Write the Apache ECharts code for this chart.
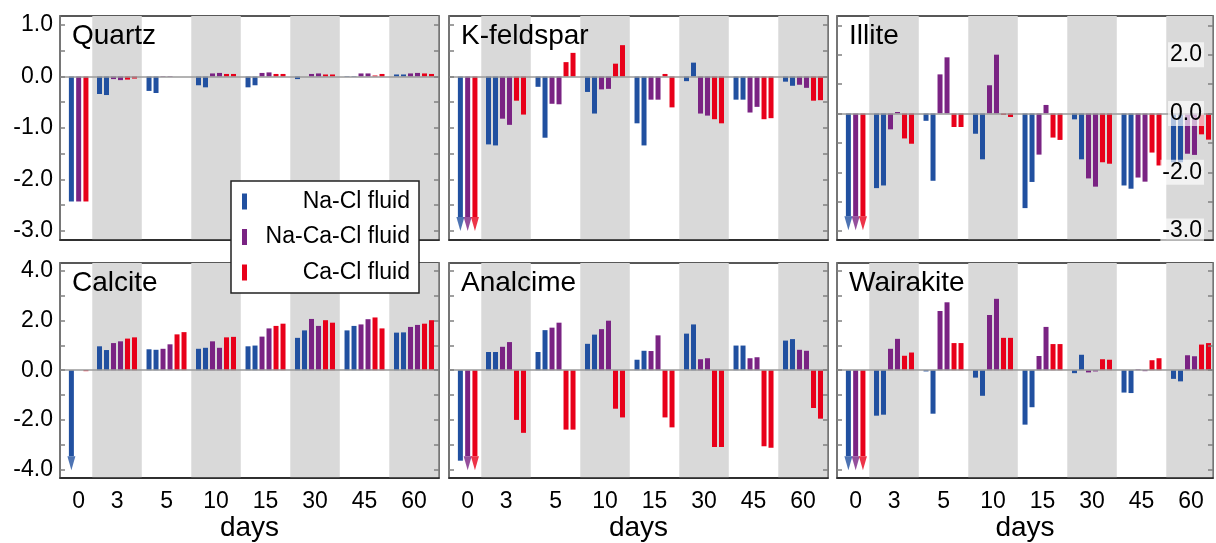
<!DOCTYPE html>
<html><head><meta charset="utf-8">
<script src="https://cdn.jsdelivr.net/npm/echarts@6/dist/echarts.min.js"></script>
<style>html,body{margin:0;padding:0;background:#fff}#c{width:1216px;height:543px}</style>
</head><body><div id="c"></div>
<script>
// ---------- DATA ----------
// Each series: first value = day 0 (single run), then two duplicate runs for each later day.
const days = ['0', '3', '5', '10', '15', '30', '45', '60'];
const fluids = ['Na-Cl fluid', 'Na-Ca-Cl fluid', 'Ca-Cl fluid'];

const quartzNaCl   = [-2.43, -0.34,-0.36, -0.28,-0.32, -0.17,-0.21, -0.21,-0.17, -0.05,0.00, 0.01,0.01, 0.04,0.04];
const quartzNaCaCl = [-2.43, -0.05,-0.07, 0.01,0.01, 0.06,0.07, 0.07,0.08, 0.05,0.06, 0.06,0.06, 0.06,0.07];
const quartzCaCl   = [-2.43, -0.06,-0.04, 0.00,0.00, 0.05,0.05, 0.05,0.05, 0.04,0.04, 0.02,0.05, 0.06,0.05];
const quartzArrows = [false, false, false];

const kfsNaCl   = [-2.73, -1.32,-1.34, -0.20,-1.19, -0.30,-0.72, -0.91,-1.34, -0.09,0.27, -0.45,-0.45, -0.10,-0.18];
const kfsNaCaCl = [-2.73, -0.82,-0.94, -0.53,-0.54, -0.25,-0.24, -0.45,-0.45, -0.72,-0.76, -0.70,-0.59, -0.16,-0.22];
const kfsCaCl   = [-2.73, -0.47,-0.74, 0.28,0.46, 0.25,0.61, 0.05,-0.60, -0.83,-0.91, -0.83,-0.81, -0.47,-0.46];
const kfsArrows = [true, true, true];

const illiteNaCl   = [-3.50, -2.54,-2.45, -0.25,-2.29, -0.69,-1.56, -3.22,-2.33, -0.20,-1.56, -2.45,-2.56, -1.66,-1.66];
const illiteNaCaCl = [-3.50, -0.54,0.05, 1.33,1.91, 0.96,2.00, -1.40,0.29, -2.21,-2.49, -2.18,-2.32, -1.37,-1.41];
const illiteCaCl   = [-3.50, -0.85,-1.03, -0.46,-0.46, -0.05,-0.12, -0.82,-0.90, -1.66,-1.71, -1.33,-1.77, -0.71,-0.89];
const illiteArrows = [true, true, true];

const calciteNaCl   = [-3.46, 0.96,0.81, 0.84,0.82, 0.86,0.90, 0.96,0.99, 1.30,1.60, 1.60,1.78, 1.51,1.52];
const calciteNaCaCl = [0.00, 1.09,1.16, 0.86,1.04, 1.16,0.90, 1.35,1.68, 2.06,1.78, 1.84,2.05, 1.74,1.82];
const calciteCaCl   = [-0.04, 1.27,1.32, 1.44,1.53, 1.32,1.34, 1.78,1.87, 2.01,1.91, 2.12,1.68, 1.87,2.01];
const calciteArrows = [true, false, false];

const analcimeNaCl   = [-3.64, 0.73,0.73, 0.73,1.61, 1.06,1.43, 0.42,0.78, 1.47,1.84, 0.99,0.99, 1.19,1.25];
const analcimeNaCaCl = [-3.46, 0.94,1.13, 1.71,1.91, 1.65,1.99, 0.77,1.40, 0.44,0.48, 0.48,0.52, 0.82,0.78];
const analcimeCaCl   = [-3.46, -2.00,-2.52, -2.39,-2.39, -1.55,-1.90, -1.90,-2.30, -3.09,-3.09, -3.06,-3.12, -1.52,-1.95];
const analcimeArrows = [false, true, true];

const wairakiteNaCl   = [-3.46, -1.83,-1.79, -0.05,-1.75, -0.30,-1.03, -2.19,-1.49, -0.12,0.62, -0.90,-0.92, -0.35,-0.45];
const wairakiteNaCaCl = [-3.46, 0.86,1.26, 2.38,2.73, 2.22,2.87, 0.57,1.74, -0.09,-0.05, 0.03,-0.04, 0.60,0.56];
const wairakiteCaCl   = [-3.46, 0.58,0.71, 1.09,1.09, 1.30,1.30, 1.05,1.05, 0.44,0.42, 0.40,0.48, 1.03,1.09];
const wairakiteArrows = [true, true, true];

// y tick / label values
const topTicks = [-3, -2.5, -2, -1.5, -1, -0.5, 0, 0.5, 1];
const topLabels = [-3, -2, -1, 0, 1];
const illiteTicks = [-4, -3, -2, -1, 0, 1, 2, 3];
const illiteLabelValues = [2, 0, -2, -4];
const illiteLabelTexts = ['2.0', '0.0', '-2.0', '-3.0'];
const bottomTicks = [-4, -3, -2, -1, 0, 1, 2, 3, 4];
const bottomLabels = [-4, -2, 0, 2, 4];

// ---------- LAYOUT / STYLE ----------
const FONT = "'Liberation Sans', Arial, Helvetica, sans-serif";
const COLORS = ['#2150a0', '#7a2383', '#e8001a'];
const cols = [{left: 60, width: 379}, {left: 449, width: 379}, {left: 837, width: 376}];
const rows = [{top: 16, height: 224}, {top: 263, height: 223}];
const BAND_PX = 49.5, XMIN = -0.152;
const POS0 = 0.225, STEP0 = 0.147, STEP = 0.1414;
const dayPos = days.map((d, i) => i === 0 ? POS0 : i);

const yTop = {min: -3.179, max: 1.177, ticks: topTicks, labels: topLabels, fmt: v => v.toFixed(1)};
const yIll = {min: -4.305, max: 3.316, ticks: illiteTicks, labels: illiteLabelValues,
  fmt: v => illiteLabelTexts[illiteLabelValues.findIndex(p => Math.abs(p - v) < 1e-6)]};
const yBot = {min: -4.34, max: 4.31, ticks: bottomTicks, labels: bottomLabels, fmt: v => v.toFixed(1)};

const panels = [
  {name: 'Quartz', vals: [quartzNaCl, quartzNaCaCl, quartzCaCl], arrows: quartzArrows, y: yTop, r: 0, c: 0},
  {name: 'K-feldspar', vals: [kfsNaCl, kfsNaCaCl, kfsCaCl], arrows: kfsArrows, y: yTop, r: 0, c: 1},
  {name: 'Illite', vals: [illiteNaCl, illiteNaCaCl, illiteCaCl], arrows: illiteArrows, y: yIll, r: 0, c: 2, rightLabels: true},
  {name: 'Calcite', vals: [calciteNaCl, calciteNaCaCl, calciteCaCl], arrows: calciteArrows, y: yBot, r: 1, c: 0},
  {name: 'Analcime', vals: [analcimeNaCl, analcimeNaCaCl, analcimeCaCl], arrows: analcimeArrows, y: yBot, r: 1, c: 1},
  {name: 'Wairakite', vals: [wairakiteNaCl, wairakiteNaCaCl, wairakiteCaCl], arrows: wairakiteArrows, y: yBot, r: 1, c: 2}
];

function barData(vals, k) {
  const out = [[POS0 + (k - 1) * STEP0, vals[0]]];
  for (let d = 1; d < days.length; d++) {
    for (let j = 0; j < 2; j++) {
      out.push([d + ((2 * k + j) - 2.5) * STEP, vals[2 * d - 1 + j]]);
    }
  }
  return out;
}

const grid = [], xAxis = [], yAxis = [], series = [], title = [];
panels.forEach((p, i) => {
  const col = cols[p.c], row = rows[p.r];
  const xmax = XMIN + col.width / BAND_PX;
  grid.push({left: col.left, top: row.top, width: col.width, height: row.height,
    show: true, borderColor: '#222', borderWidth: 1.5, backgroundColor: 'transparent'});
  title.push({text: p.name, left: col.left + 12, top: row.top + 6, padding: 0, z: 8,
    textStyle: {fontSize: 28, fontWeight: 'normal', color: '#000', fontFamily: FONT}});
  const isBottom = p.r === 1;
  xAxis.push({type: 'value', gridIndex: i, min: XMIN, max: xmax, z: 6,
    axisLine: {show: true, onZero: false, lineStyle: {color: '#222', width: 1.5}},
    axisTick: {show: false}, splitLine: {show: false},
    axisLabel: isBottom ? {show: true, customValues: dayPos, margin: 12, fontSize: 23, color: '#000', fontFamily: FONT,
      formatter: v => days[dayPos.findIndex(q => Math.abs(q - v) < 1e-6)]} : {show: false},
    name: isBottom ? 'days' : '', nameLocation: 'middle', nameGap: 32,
    nameTextStyle: {fontSize: 28, color: '#000', fontFamily: FONT}});
  const common = {type: 'value', gridIndex: i, min: p.y.min, max: p.y.max, z: 6,
    splitLine: {show: false},
    axisLine: {show: true, onZero: false, lineStyle: {color: '#808080', width: 1.5}},
    axisTick: {show: true, inside: true, length: 5, customValues: p.y.ticks, lineStyle: {color: '#808080', width: 1.5}}};
  yAxis.push(Object.assign({}, common, {position: 'left',
    axisLabel: {show: p.c === 0, customValues: p.y.labels, formatter: p.y.fmt, margin: 7, fontSize: 23, color: '#000', fontFamily: FONT}}));
  yAxis.push(Object.assign({}, common, {position: 'right',
    axisLabel: p.rightLabels ? {show: true, inside: true, customValues: p.y.labels, formatter: p.y.fmt, margin: 9,
      fontSize: 23, color: '#000', fontFamily: FONT, backgroundColor: 'rgba(255,255,255,0.65)', padding: [2, 2, 0, 2]} : {show: false}}));
  const bands = [[0.5, 1.5], [2.5, 3.5], [4.5, 5.5], [6.5, 7.5]].map(b => [{xAxis: b[0]}, {xAxis: Math.min(b[1], xmax)}]);
  series.push({type: 'line', xAxisIndex: i, yAxisIndex: 2 * i, data: [], z: 1, silent: true,
    markArea: {silent: true, itemStyle: {color: '#d9d9d9'}, data: bands},
    markLine: {silent: true, symbol: ['none', 'none'], label: {show: false},
      lineStyle: {color: '#9a9a9a', width: 1.5, type: 'solid'}, data: [{yAxis: 0}]}});
  for (let k = 0; k < 3; k++) {
    series.push({type: 'bar', name: fluids[k], xAxisIndex: i, yAxisIndex: 2 * i, barWidth: 5, barGap: '-100%',
      itemStyle: {color: COLORS[k]}, z: 3, data: barData(p.vals[k], k)});
  }
  const arrowData = [];
  p.arrows.forEach((a, k) => {
    if (a) arrowData.push({value: [POS0 + (k - 1) * STEP0, p.vals[k][0]], itemStyle: {color: COLORS[k]}});
  });
  series.push({type: 'scatter', xAxisIndex: i, yAxisIndex: 2 * i, symbol: 'triangle', symbolSize: [8, 14],
    symbolRotate: 180, symbolOffset: [0, '50%'], z: 4, silent: true, data: arrowData});
});

const chart = echarts.init(document.getElementById('c'), null, {renderer: 'canvas'});
chart.setOption({
  animation: false,
  backgroundColor: '#fff',
  textStyle: {fontFamily: FONT},
  title, grid, xAxis, yAxis, series,
  legend: {data: fluids, orient: 'vertical', left: 231, top: 181, padding: [9, 9, 9, 11], itemGap: 12.5,
    itemWidth: 5, itemHeight: 16, icon: 'rect', backgroundColor: '#fff', borderColor: '#222', borderWidth: 1.5,
    z: 10, selectedMode: false, formatter: '{t|{name}}',
    textStyle: {rich: {t: {width: 158, align: 'right', fontSize: 23, lineHeight: 24, fontFamily: FONT, color: '#000'}}}}
});
</script></body></html>
